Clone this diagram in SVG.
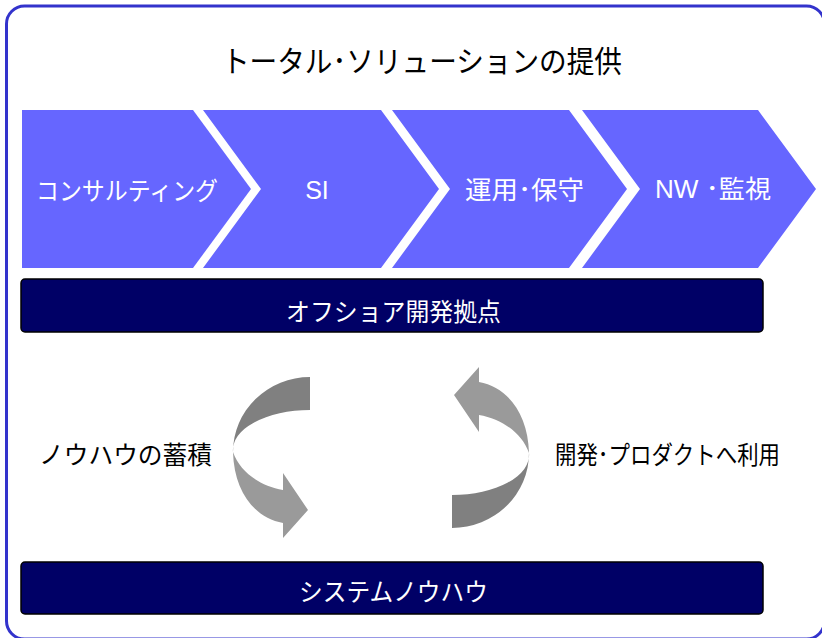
<svg xmlns="http://www.w3.org/2000/svg" width="822" height="638" viewBox="0 0 822 638">
<style>
.jp{font-family:"Noto Sans CJK JP","Liberation Sans",sans-serif;}
.w{fill:#ffffff;}
.k{fill:#000000;}
.chev{fill:#6666ff;}
.bar{fill:#000066;stroke:#000000;stroke-width:1.5;}
.dk{fill:#808080;}
.lt{fill:#9a9a9a;}
</style>
<defs>
<g id="curl">
<path class="dk" d="M310,377 L310,410 A77,40 0 0 0 233,452 A77,75 0 0 1 310,377 Z"/>
<path class="lt" d="M233,452 C234,492 255,518 283,523 L283,538 L308,510 L283,473 L283,490 C260,486 240,472 233,452 Z"/>
</g>
</defs>
<rect x="6.5" y="6" width="818" height="633" rx="18" fill="#ffffff" stroke="#3333cc" stroke-width="3"/>
<text class="jp k" x="222" y="72" font-size="30" textLength="400" lengthAdjust="spacingAndGlyphs">トータル･ソリューションの提供</text>
<g id="consulting">
<polygon class="chev" points="22,110 193,110 251,189 193,268 22,268"/>
<text class="jp w" x="36" y="200" font-size="25" textLength="182" lengthAdjust="spacingAndGlyphs">コンサルティング</text>
</g>
<g id="si">
<polygon class="chev" points="203,110 381,110 439,189 381,268 203,268 261,189"/>
<text class="w" x="317" y="199" font-size="25" text-anchor="middle" font-family="Liberation Sans, sans-serif">SI</text>
</g>
<g id="unyou">
<polygon class="chev" points="392,110 569,110 627,189 569,268 392,268 450,189"/>
<text class="jp w" x="465" y="199" font-size="25" textLength="119" lengthAdjust="spacingAndGlyphs">運用･保守</text>
</g>
<g id="nw">
<polygon class="chev" points="582,110 758,110 816,189 758,268 582,268 640,189"/>
<text class="w" x="655" y="198" font-size="25" textLength="116" lengthAdjust="spacingAndGlyphs" font-family="Liberation Sans, Noto Sans CJK JP, sans-serif">NW ･監視</text>
</g>
<g id="offshore">
<rect class="bar" x="21" y="279" width="742" height="53" rx="4"/>
<text class="jp w" x="286" y="321" font-size="25" textLength="215" lengthAdjust="spacingAndGlyphs">オフショア開発拠点</text>
</g>
<g id="knowhow">
<rect class="bar" x="21" y="562" width="742" height="52" rx="4"/>
<text class="jp w" x="299" y="601" font-size="25" textLength="189" lengthAdjust="spacingAndGlyphs">システムノウハウ</text>
</g>
<g id="connectors">
<use href="#curl"/>
<use href="#curl" transform="rotate(180 381 452.5)"/>
</g>
<text class="jp k" x="39" y="464" font-size="25" textLength="173" lengthAdjust="spacingAndGlyphs">ノウハウの蓄積</text>
<text class="jp k" x="555" y="464" font-size="25" textLength="225" lengthAdjust="spacingAndGlyphs">開発･プロダクトへ利用</text>
</svg>
